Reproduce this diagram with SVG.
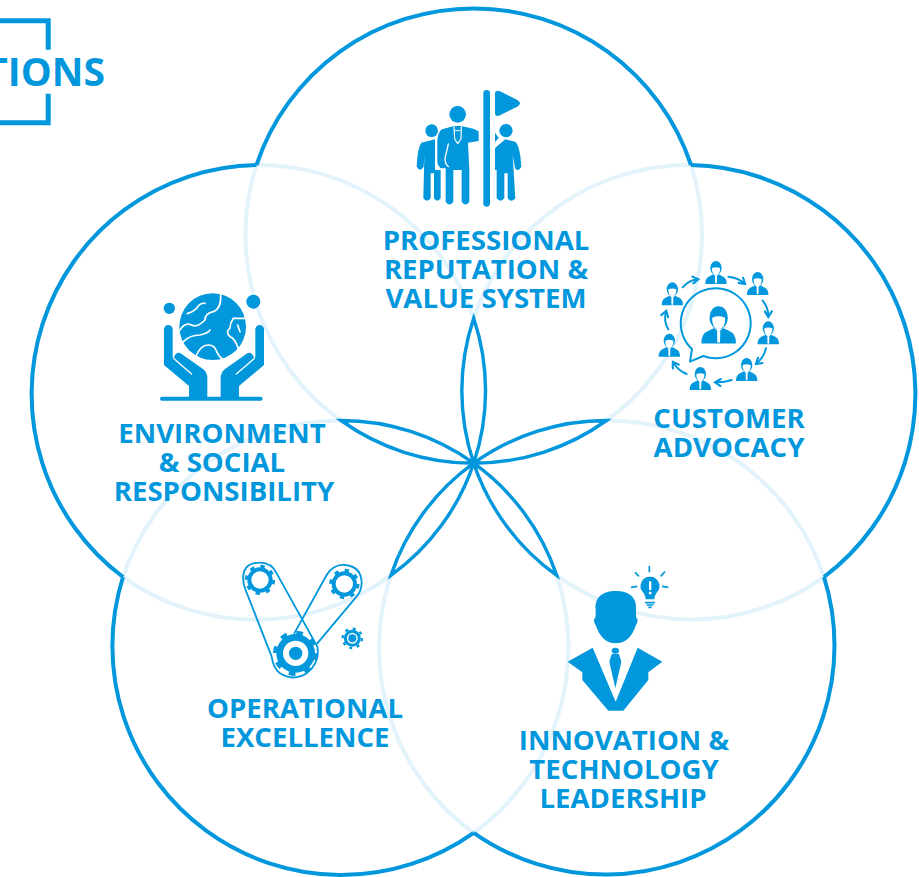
<svg xmlns="http://www.w3.org/2000/svg" width="919" height="877" viewBox="0 0 919 877">
<style>
text{font-family:"Open Sans","Noto Sans","Liberation Sans",sans-serif;font-weight:700;font-size:27.6px;fill:#0097dc;text-anchor:middle}
.dark{fill:none;stroke:#0097dc;stroke-width:4;stroke-miterlimit:12}
.petal{fill:none;stroke:#0097dc;stroke-width:3.4;stroke-miterlimit:14}
.pale{fill:none;stroke:#e3f3fb;stroke-width:4}
.b{fill:#0097dc}
.w{fill:none;stroke:#fff;stroke-linecap:round;stroke-linejoin:round}
.ln{fill:none;stroke:#0097dc;stroke-linecap:round;stroke-linejoin:round}
</style>
<defs>
<marker id="ah" viewBox="0 0 10 10" refX="7" refY="5" markerWidth="4.500" markerHeight="4.500" orient="auto"><path d="M1,0.500 L8,5 L1,9.500" fill="none" stroke="#0097dc" stroke-width="2.400"/></marker>
<g id="person">
<path class="b" d="M-32,35 Q-33,17 -18,11 L-8,6 L0,14 L8,6 L18,11 Q33,17 32,35Z"/>
<ellipse class="b" cx="0" cy="-13" rx="17" ry="21"/>
<path fill="#fff" d="M-12,-13 Q0,-18 12,-13 Q13,6 0,9 Q-13,6 -12,-13Z"/>
<path fill="#fff" d="M-3,12 L3,12 L2.500,33 L-2.500,33Z"/>
</g>
</defs>

<g id="connectors">
<path class="pale" d="M691,165 A228,228 0 0 1 606.500,420.500"/>
<path class="pale" d="M341,420.500 A228,228 0 0 1 256.500,165"/>
<path class="pale" d="M824,577 A228,228 0 0 1 556.700,575.400"/>
<path class="pale" d="M473.700,318.200 A228,228 0 0 1 691,165"/>
<path class="pale" d="M473.700,832.800 A228,228 0 0 1 390.900,575.400"/>
<path class="pale" d="M606.500,420.500 A228,228 0 0 1 824,577"/>
<path class="pale" d="M123,577 A228,228 0 0 1 341,420.500"/>
<path class="pale" d="M556.700,575.400 A228,228 0 0 1 473.700,832.800"/>
<path class="pale" d="M256.500,165 A228,228 0 0 1 473.700,318.200"/>
<path class="pale" d="M390.900,575.400 A228,228 0 0 1 123,577"/>
<path class="dark" d="M256.500,165 A229,229 0 0 1 691,165"/>
<path class="dark" d="M691,165 A229,229 0 0 1 824,577"/>
<path class="dark" d="M824,577 A229,229 0 0 1 473.700,832.800"/>
<path class="dark" d="M473.700,832.800 A229,229 0 0 1 123,577"/>
<path class="dark" d="M123,577 A229,229 0 0 1 256.500,165"/>
<path class="petal" d="M473.700,318.200 A227.500,227.500 0 0 1 473.700,463.200 A227.500,227.500 0 0 1 473.700,318.200Z"/>
<path class="petal" d="M606.500,420.500 A227.500,227.500 0 0 1 473.700,463.200 A227.500,227.500 0 0 1 606.500,420.500Z"/>
<path class="petal" d="M341,420.500 A227.500,227.500 0 0 1 473.700,463.200 A227.500,227.500 0 0 1 341,420.500Z"/>
<path class="petal" d="M390.900,575.400 A227.500,227.500 0 0 1 473.700,463.200 A227.500,227.500 0 0 1 390.900,575.400Z"/>
<path class="petal" d="M556.700,575.400 A227.500,227.500 0 0 1 473.700,463.200 A227.500,227.500 0 0 1 556.700,575.400Z"/>
<circle class="b" cx="473.700" cy="463.200" r="3"/>
</g>

<g id="title">
<path d="M0,20.800 H48.200 V49.700 M48.200,93.700 V122.700 H0" fill="none" stroke="#0097dc" stroke-width="5"/>
<text x="105" y="86" style="font-size:39px;text-anchor:end">TIONS</text>
</g>

<g id="node-reputation">
<g transform="translate(380 70) scale(.3333)">
<rect class="b" x="310" y="60" width="20" height="350" rx="10"/>
<path class="b" d="M345,72 Q345,58 360,64 L412,90 Q428,100 412,110 L360,136 Q345,142 345,128Z"/>
<circle class="b" cx="233" cy="133" r="25"/>
<circle class="b" cx="155" cy="182" r="19"/>
<circle class="b" cx="378" cy="182" r="20"/>
<path class="b" d="M124,218 L165,208 L165,300 L182,300 L182,385 Q172,400 162,385 L162,310 L152,310 L152,385 Q141,400 130,385 L133,255 L131,290 Q120,308 110,290 Q112,235 124,218Z"/>
<path class="b" d="M352,228 L376,208 L405,215 Q420,225 424,290 Q415,308 405,295 L398,255 L406,385 Q395,400 383,385 L383,310 L373,310 L373,385 Q362,400 350,385 L350,300 L345,300 L345,235Z"/>
<path class="b" d="M345,188 L356,203 L345,217Z"/>
<path class="b" d="M186,178 L222,168 L244,168 L280,176 L296,184 L296,213 L264,218 L268,300 L268,395 Q257,412 245,395 L245,300 L220,300 L220,395 Q208,412 197,395 L197,295 L182,295 Q170,285 172,265 L172,210 Q175,185 186,178Z" stroke="#fff" stroke-width="5" paint-order="stroke"/>
<path class="w" stroke-width="4" d="M205,222 L195,265 Q195,283 205,290"/>
<path class="w" stroke-width="3.500" d="M222,170 L224,207 L233,221 L243,207 L244,170"/>
<path class="w" stroke-width="3" d="M226,182 H240"/>
</g>
</g>
<text x="486" y="250">PROFESSIONAL</text>
<text x="486" y="279">REPUTATION &amp;</text>
<text x="486" y="308">VALUE SYSTEM</text>

<g id="node-customer">
<g transform="translate(640 250) scale(.3333)">
<path d="M150,335 L156,297 A105,105 0 1 1 190,318 Z" fill="none" stroke="#0097dc" stroke-width="6" stroke-linejoin="round"/>
<use href="#person" transform="translate(228 67)"/>
<use href="#person" transform="translate(353 100)"/>
<use href="#person" transform="translate(385 248)"/>
<use href="#person" transform="translate(320 358)"/>
<use href="#person" transform="translate(181 385)"/>
<use href="#person" transform="translate(88 285)"/>
<use href="#person" transform="translate(97 131)"/>
<use href="#person" transform="translate(236 224) scale(1.62)"/>
<g class="ln" stroke-width="6">
<path d="M128,112 Q145,92 172,88" marker-end="url(#ah)"/>
<path d="M265,80 Q292,82 313,100" marker-end="url(#ah)"/>
<path d="M368,152 Q385,172 385,198" marker-end="url(#ah)"/>
<path d="M378,295 Q372,322 350,340" marker-end="url(#ah)"/>
<path d="M275,390 Q252,398 228,397" marker-end="url(#ah)"/>
<path d="M140,372 Q115,362 100,338" marker-end="url(#ah)"/>
<path d="M85,238 Q70,212 78,185" marker-end="url(#ah)"/>
</g>
</g>
</g>
<text x="729" y="428">CUSTOMER</text>
<text x="729" y="457">ADVOCACY</text>

<g id="node-environment">
<g transform="translate(150 280) scale(.3333)">
<circle class="b" cx="188" cy="140" r="100"/>
<circle class="b" cx="58" cy="85" r="17"/>
<circle class="b" cx="310" cy="65" r="21"/>
<g class="w" stroke-width="5">
<path d="M112,101 Q130,95 140,85 Q150,68 165,70"/>
<path d="M90,150 Q105,125 125,135 Q140,145 165,120 Q165,100 190,95 Q215,85 212,42"/>
<path d="M100,185 Q120,165 150,165 Q175,160 180,150"/>
<path d="M135,235 Q150,195 175,195 Q195,195 200,215 Q210,235 222,240"/>
<path d="M288,115 L250,115 Q240,130 240,145 Q225,155 240,170 Q255,175 265,207"/>
<path d="M263,135 L270,155"/>
</g>
<path fill="#fff" d="M60,240 L100,205 L188,255 L280,205 L325,240 L212,352 L172,352Z"/>
<g id="hand">
<path class="b" d="M42,148 a13,13 0 0 1 26,0 L68,232 L74,238 Q70,228 78,222 Q85,215 95,222 L160,268 Q172,278 172,295 L172,352 L117,352 L117,318 L42,255Z"/>
<path class="w" stroke-width="4" d="M72,236 L125,282"/>
</g>
<use href="#hand" transform="matrix(-1 0 0 1 384 0)"/>
<rect class="b" x="30" y="350" width="308" height="12" rx="6"/>
</g>
</g>
<text x="222" y="443">ENVIRONMENT</text>
<text x="222" y="472">&amp; SOCIAL</text>
<text x="224" y="501">RESPONSIBILITY</text>

<g id="node-operational">
<g transform="translate(230 550) scale(.3333)">
<path class="ln" stroke-width="5.500" d="M40,90 Q36,38 90,38 Q125,38 140,70 L262,290 Q270,340 230,370 Q190,395 150,370 Q130,355 125,320 L45,115 Q40,100 40,90Z"/>
<path class="ln" stroke-width="5.500" d="M193,250 L290,75 Q310,42 345,45 Q395,50 395,100 Q395,125 375,145 L262,280"/>
<circle cx="90" cy="90" r="32" fill="#fff" fill-opacity="0" stroke="#0097dc" stroke-width="12"/>
<circle cx="90" cy="90" r="41" fill="none" stroke="#0097dc" stroke-width="9" stroke-dasharray="13 19.200"/>
<circle cx="343" cy="102" r="32" fill="none" stroke="#0097dc" stroke-width="12"/>
<circle cx="343" cy="102" r="41" fill="none" stroke="#0097dc" stroke-width="9" stroke-dasharray="13 19.200"/>
<circle cx="197" cy="310" r="48" fill="none" stroke="#0097dc" stroke-width="20"/>
<circle cx="197" cy="310" r="62" fill="none" stroke="#0097dc" stroke-width="12" stroke-dasharray="20 28.700"/>
<circle class="b" cx="197" cy="310" r="20"/>
<path class="w" stroke-width="3.500" d="M175,305 Q172,335 200,342 M183,290 Q165,305 175,330"/>
<circle cx="367" cy="265" r="21" fill="none" stroke="#0097dc" stroke-width="9"/>
<circle cx="367" cy="265" r="29" fill="none" stroke="#0097dc" stroke-width="7" stroke-dasharray="9 13.800"/>
<circle class="b" cx="367" cy="265" r="12"/>
</g>
</g>
<text x="305" y="718">OPERATIONAL</text>
<text x="305" y="747">EXCELLENCE</text>

<g id="node-innovation">
<g transform="translate(555 555) scale(.3333)">
<path class="b" d="M122,165 C118,125 145,108 182,108 C220,108 247,125 243,165 L243,185 Q252,197 243,210 Q225,265 182,265 Q140,265 122,210 Q112,197 122,185Z"/>
<path class="b" d="M113,278 L38,320 L82,352 L82,375 L160,467 L205,467 L280,375 L280,352 L322,320 L248,278 L182,440Z"/>
<ellipse class="b" cx="181" cy="287" rx="11" ry="9"/>
<path class="b" d="M170,297 L192,297 L199,320 L181,400 L163,320Z"/>
<path class="b" d="M285,65 a28,28 0 0 1 20,48 Q298,122 298,133 L272,133 Q272,122 265,113 a28,28 0 0 1 20,-48Z"/>
<rect x="282" y="79" width="7" height="26" fill="#fff"/>
<circle cx="285.500" cy="114" r="4.500" fill="#fff"/>
<g class="ln" stroke-width="5">
<path stroke-linecap="butt" d="M283,33 V52 M240,52 L252,64 M330,50 L317,64 M228,97 L247,94 M340,97 L321,94"/>
<path stroke-linecap="butt" d="M270,143 H300 M275,150 H295 M280,157 H290"/>
</g>
</g>
</g>
<text x="624" y="750">INNOVATION &amp;</text>
<text x="624" y="779">TECHNOLOGY</text>
<text x="623" y="808">LEADERSHIP</text>
</svg>
